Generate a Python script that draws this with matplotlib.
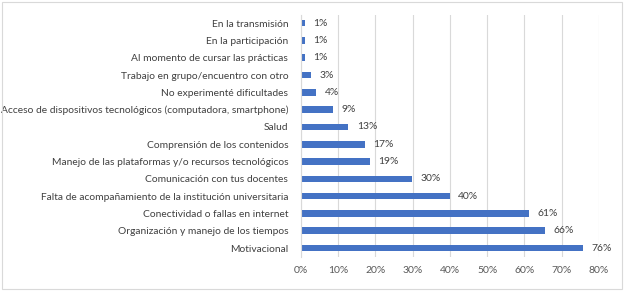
import matplotlib
matplotlib.use("Agg")
import matplotlib.pyplot as plt
from matplotlib.ticker import PercentFormatter, MultipleLocator

# Categories (top to bottom as shown) and their shares in percent
categories = [
    "En la transmisión",
    "En la participación",
    "Al momento de cursar las prácticas",
    "Trabajo en grupo/encuentro con otro",
    "No experimenté dificultades",
    "Acceso de dispositivos tecnológicos (computadora, smartphone)",
    "Salud",
    "Comprensión de los contenidos",
    "Manejo de las plataformas y/o recursos tecnológicos",
    "Comunicación con tus docentes",
    "Falta de acompañamiento de la institución universitaria",
    "Conectividad o fallas en internet",
    "Organización y manejo de los tiempos",
    "Motivacional",
]
values = [1.2, 1.2, 1.2, 2.8, 4.2, 8.7, 12.8, 17.1, 18.5, 29.8, 39.9, 61.2, 65.6, 75.6]
labels = ["1%", "1%", "1%", "3%", "4%", "9%", "13%", "17%", "19%", "30%", "40%", "61%", "66%", "76%"]

plt.rcParams["font.family"] = ["Lato", "DejaVu Sans"]

fig = plt.figure(figsize=(6.24, 2.91), dpi=100)
ax = fig.add_axes([0.482, 0.118, 0.478, 0.832])

y = list(range(len(categories)))
bars = ax.barh(y, values, height=0.38, color="#4472C4")
ax.bar_label(bars, labels=labels, padding=6, fontsize=7.5, color="#404040")

ax.set_yticks(y)
ax.set_yticklabels(categories, fontsize=7.35, color="#404040")
ax.set_ylim(len(categories) - 0.5, -0.5)
ax.set_xlim(0, 80)
ax.xaxis.set_major_locator(MultipleLocator(10))
ax.xaxis.set_major_formatter(PercentFormatter(decimals=0))
ax.tick_params(axis="x", labelsize=7.5, labelcolor="#595959", length=0, pad=7)
ax.tick_params(axis="y", length=0, pad=9)

ax.grid(axis="x", color="#D9D9D9", linewidth=0.8)
ax.set_axisbelow(True)
for side in ["top", "right", "bottom"]:
    ax.spines[side].set_visible(False)
ax.spines["left"].set_color("#D9D9D9")

# light frame round the whole chart
fig.patches.append(plt.Rectangle((0.004, 0.007), 0.992, 0.986, transform=fig.transFigure,
                                 fill=False, edgecolor="#D9D9D9", linewidth=0.8))

fig.savefig("out.png", dpi=100)
